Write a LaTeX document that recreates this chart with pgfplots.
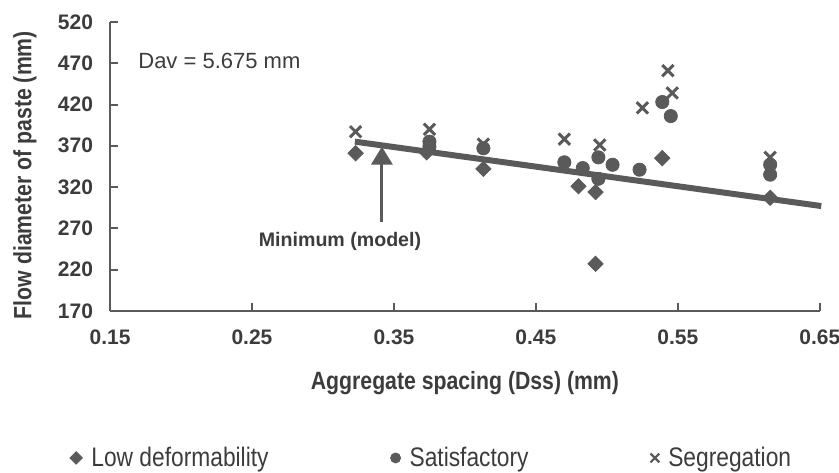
\documentclass[border=0pt]{standalone}
\usepackage{fontspec}
\setmainfont{Liberation Sans}
\newfontfamily\narrow{Liberation Sans}[FakeStretch=0.85]
\usepackage{pgfplots}
\pgfplotsset{compat=1.18}
\usetikzlibrary{arrows.meta}
\definecolor{mk}{HTML}{5A5A5A}
\definecolor{tx}{HTML}{3C3C3C}
\pgfplotsset{
  legdia/.style={legend image code/.code={\draw[##1, mark size=2.2pt] plot coordinates {(3pt,0pt)};}},
  legcirc/.style={legend image code/.code={\draw[##1, mark size=2.5pt] plot coordinates {(3pt,0pt)};}},
  legx/.style={legend image code/.code={\draw[##1, mark size=3.1pt, line width=1.1pt] plot coordinates {(3pt,0pt)};}},
}
\begin{document}
\begin{tikzpicture}
\begin{axis}[
  scale only axis, width=355pt, height=144.5pt,
  xmin=0.15, xmax=0.65, ymin=170, ymax=520,
  axis lines=left, axis line style={-, line width=1.1pt, color=mk},
  clip=false,
  xtick={0.15,0.25,0.35,0.45,0.55,0.65},
  ytick={170,220,270,320,370,420,470,520},
  tick align=inside, major tick length=4pt,
  tick style={line width=1pt, color=mk},
  /pgf/number format/assume math mode=true,
  xticklabel style={/pgf/number format/fixed, /pgf/number format/fixed zerofill, /pgf/number format/precision=2, yshift=-6pt},
  yticklabel style={/pgf/number format/fixed, /pgf/number format/precision=0, xshift=-5pt},
  ticklabel style={font=\fontsize{10.5}{12}\selectfont\bfseries, color=tx},
  xlabel={Aggregate spacing (Dss) (mm)},
  ylabel={Flow diameter of paste (mm)},
  label style={font=\narrow\fontsize{12.5}{14}\selectfont\bfseries, color=tx},
  xlabel style={at={(rel axis cs:0.5,-0.25)}, anchor=center},
  ylabel style={at={(rel axis cs:-0.12,0.47)}, anchor=center},
  legend columns=3,
  legend style={draw=none, fill=none, at={(rel axis cs:-0.057,-0.509)}, anchor=west,
    font=\narrow\fontsize{13.4}{15}\selectfont, text=tx, inner sep=0pt,
    /tikz/every odd column/.append style={column sep=2.5pt},
    /tikz/every even column/.append style={column sep=59pt}},
]
\addplot[only marks, mark=square*, mark size=2.7pt, mark options={rotate=45}, color=mk, legdia]
  coordinates {(0.323,361) (0.373,362) (0.413,342) (0.480,321) (0.492,314) (0.492,227) (0.539,355) (0.615,307)};
\addlegendentry{Low deformability}
\addplot[only marks, mark=*, mark size=3.3pt, color=mk, legcirc]
  coordinates {(0.375,375) (0.375,369) (0.413,367) (0.470,350) (0.483,343) (0.494,356) (0.494,330) (0.504,347) (0.523,341) (0.539,423) (0.545,406) (0.615,347) (0.615,335)};
\addlegendentry{Satisfactory}
\addplot[only marks, mark=x, mark size=4pt, color=mk, line width=1.5pt, legx]
  coordinates {(0.323,387) (0.375,390) (0.413,372) (0.470,378) (0.495,371) (0.525,416) (0.543,461) (0.546,434) (0.615,356)};
\addlegendentry{Segregation}
\addplot[forget plot, no marks, line width=3pt, color=mk] coordinates {(0.3225,375) (0.651,297)};
\addplot[forget plot, no marks, line width=1.6pt, color=mk, -{Triangle[width=10.5pt,length=9pt]}] coordinates {(0.3415,278) (0.3415,369)};
\node[anchor=west, font=\fontsize{11}{13}\selectfont, text=tx] at (axis cs:0.165,473) {Dav = 5.675 mm};
\node[anchor=center, font=\fontsize{9.8}{12}\selectfont\bfseries, text=tx] at (axis cs:0.312,254) {Minimum (model)};
\coordinate (bl) at (rel axis cs:-0.155,-0.561);
\coordinate (tr) at (rel axis cs:1.027,1.076);
\end{axis}
\pgfresetboundingbox
\path[use as bounding box] (bl) rectangle (tr);
\end{tikzpicture}
\end{document}
